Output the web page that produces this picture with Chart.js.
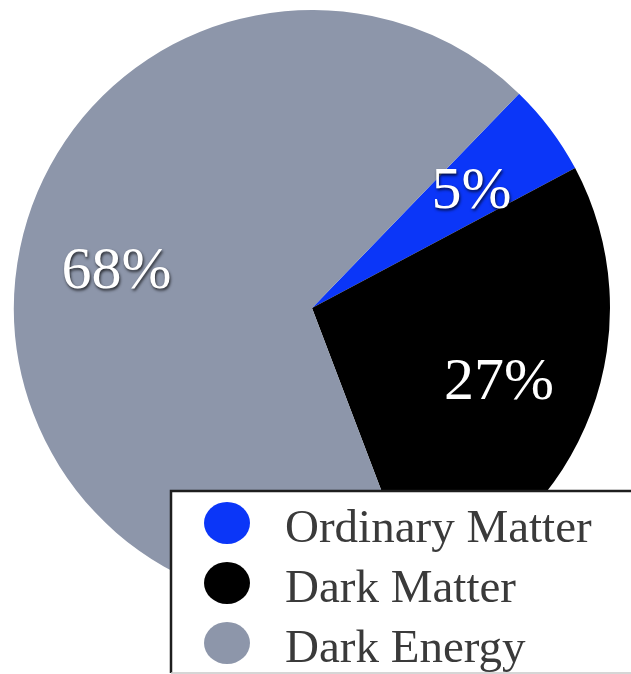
<!DOCTYPE html>
<html>
<head>
<meta charset="utf-8">
<script src="https://cdn.jsdelivr.net/npm/chart.js@4/dist/chart.umd.min.js"></script>
<style>
  html, body { margin: 0; padding: 0; background: #ffffff; }
  #wrap { position: relative; width: 631px; height: 674px; }
  canvas { display: block; }
</style>
</head>
<body>
<div id="wrap"><canvas id="c" width="631" height="674"></canvas></div>
<script>
const categories = ["Ordinary Matter", "Dark Matter", "Dark Energy"];
const shares = [5, 27, 68];
const percentLabels = ["5%", "27%", "68%"];
const sliceColors = ["#0b36f8", "#000000", "#8d96aa"];

const SERIF = "'Liberation Serif', 'DejaVu Serif', serif";

const sliceLabelPlugin = {
  id: 'sliceLabels',
  afterDatasetsDraw(chart) {
    const ctx = chart.ctx;
    const meta = chart.getDatasetMeta(0);
    const size = 60;
    ctx.save();
    ctx.font = size + "px " + SERIF;
    ctx.textAlign = 'center';
    ctx.textBaseline = 'alphabetic';
    meta.data.forEach((arc, i) => {
      const p = arc.getProps(['x', 'y', 'startAngle', 'endAngle', 'outerRadius'], true);
      const mid = (p.startAngle + p.endAngle) / 2;
      const r = p.outerRadius * 0.67;
      const cx = p.x + Math.cos(mid) * r;
      const cy = p.y + Math.sin(mid) * r;
      ctx.shadowColor = 'rgba(0,0,0,0.75)';
      ctx.shadowBlur = 3;
      ctx.shadowOffsetX = 1;
      ctx.shadowOffsetY = 2;
      ctx.fillStyle = '#ffffff';
      ctx.fillText(percentLabels[i], cx, cy + size * 0.34);
    });
    ctx.restore();
  }
};

const boxLegendPlugin = {
  id: 'boxLegend',
  afterDraw(chart) {
    const ctx = chart.ctx;
    const left = 171, top = 491, right = 640, bottom = 673;
    ctx.save();
    ctx.fillStyle = '#ffffff';
    ctx.fillRect(left, top, right - left, bottom - top);
    ctx.strokeStyle = '#1e1e1e';
    ctx.lineWidth = 2.5;
    ctx.beginPath();
    ctx.moveTo(left, bottom);
    ctx.lineTo(left, top);
    ctx.lineTo(right, top);
    ctx.stroke();
    ctx.strokeStyle = '#c8c8c8';
    ctx.lineWidth = 1.5;
    ctx.beginPath();
    ctx.moveTo(left, bottom);
    ctx.lineTo(right, bottom);
    ctx.stroke();
    const rowY = [523, 583, 643];
    ctx.font = "47px " + SERIF;
    ctx.textAlign = 'left';
    ctx.textBaseline = 'alphabetic';
    chart.data.labels.forEach((lab, i) => {
      const y = rowY[i];
      ctx.fillStyle = chart.data.datasets[0].backgroundColor[i];
      ctx.beginPath();
      ctx.ellipse(227, y, 23, 21, 0, 0, Math.PI * 2);
      ctx.fill();
      ctx.fillStyle = '#3a3a3a';
      ctx.fillText(lab, 285, y + 19);
    });
    ctx.restore();
  }
};

new Chart(document.getElementById('c'), {
  type: 'pie',
  data: {
    labels: categories,
    datasets: [{
      data: shares,
      backgroundColor: sliceColors,
      borderWidth: 0
    }]
  },
  options: {
    responsive: false,
    animation: false,
    rotation: 44,
    layout: { padding: { left: 14, right: 21, top: 10, bottom: 68 } },
    plugins: {
      legend: { display: false },
      tooltip: { enabled: false }
    }
  },
  plugins: [sliceLabelPlugin, boxLegendPlugin]
});
</script>
</body>
</html>
